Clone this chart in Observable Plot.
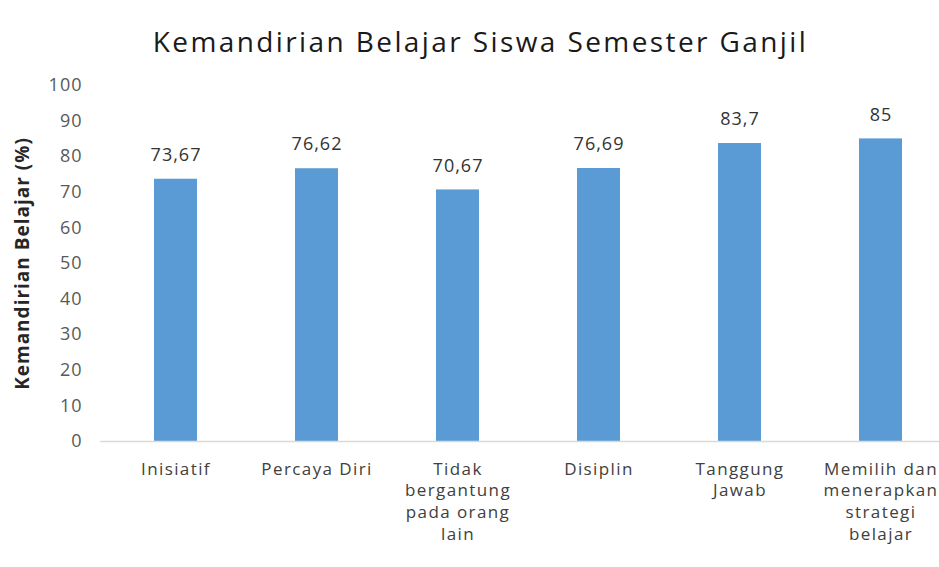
<!DOCTYPE html>
<html>
<head>
<meta charset="utf-8">
<script src="https://cdn.jsdelivr.net/npm/d3@7"></script>
<script src="https://cdn.jsdelivr.net/npm/@observablehq/plot@0.6"></script>
<style>
  html, body { margin: 0; padding: 0; background: #fff; }
  #title { height: 70px; box-sizing: border-box; padding-top: 27px; padding-left: 22px; text-align: center;
    font-family: "Open Sans", sans-serif; font-size: 28px; letter-spacing: 2.4px; color: #1a1a1a; line-height: 1; }
  #chart svg { display: block; }
  #chart svg text { letter-spacing: 1px; }
  #chart svg g.xlab text { letter-spacing: 1.4px; }
</style>
</head>
<body>
<div id="title">Kemandirian Belajar Siswa Semester Ganjil</div>
<div id="chart"></div>
<script>
const categories = ["Inisiatif", "Percaya Diri", "Tidak bergantung pada orang lain", "Disiplin", "Tanggung Jawab", "Memilih dan menerapkan strategi belajar"];
const values = [73.67, 76.62, 70.67, 76.69, 83.7, 85];
const tickLabels = ["Inisiatif", "Percaya Diri", "Tidak\nbergantung\npada orang\nlain", "Disiplin", "Tanggung\nJawab", "Memilih dan\nmenerapkan\nstrategi\nbelajar"];
const yTicks = [0, 10, 20, 30, 40, 50, 60, 70, 80, 90, 100];
const yTitle = "Kemandirian Belajar (%)";

const data = categories.map((c, i) => ({category: c, value: values[i], label: String(values[i]).replace(".", ",")}));
const labelOf = new Map(categories.map((c, i) => [c, tickLabels[i]]));

const chart = Plot.plot({
  width: 939,
  height: 497,
  marginLeft: 100,
  marginRight: 0,
  marginTop: 15,
  marginBottom: 126,
  style: {fontFamily: "'Open Sans', sans-serif", fontSize: "18px", color: "#404040", overflow: "hidden"},
  x: {domain: categories, range: [105, 951], paddingInner: 0.695, paddingOuter: 0.3475},
  y: {domain: [0, 100]},
  marks: [
    Plot.barY(data, {x: "category", y: "value", fill: "#5B9BD5"}),
    Plot.ruleY([0], {stroke: "#D9D9D9", strokeWidth: 1.5}),
    Plot.axisY({ticks: yTicks, tickSize: 0, tickPadding: 18, label: null, fill: "#595959", fontSize: 18}),
    Plot.axisX({tickSize: 0, tickPadding: 18, label: null, tickFormat: d => labelOf.get(d), lineHeight: 1.27, fill: "#404040", fontSize: 17, className: "xlab"}),
    Plot.text(data, {x: "category", y: "value", text: "label", dy: -24, fill: "#333333", fontSize: 18}),
    Plot.text([yTitle], {frameAnchor: "left", textAnchor: "middle", rotate: -90, dx: -78, fontWeight: "bold", fontSize: 19, fill: "#262626"})
  ]
});
document.getElementById("chart").appendChild(chart);
</script>
</body>
</html>
